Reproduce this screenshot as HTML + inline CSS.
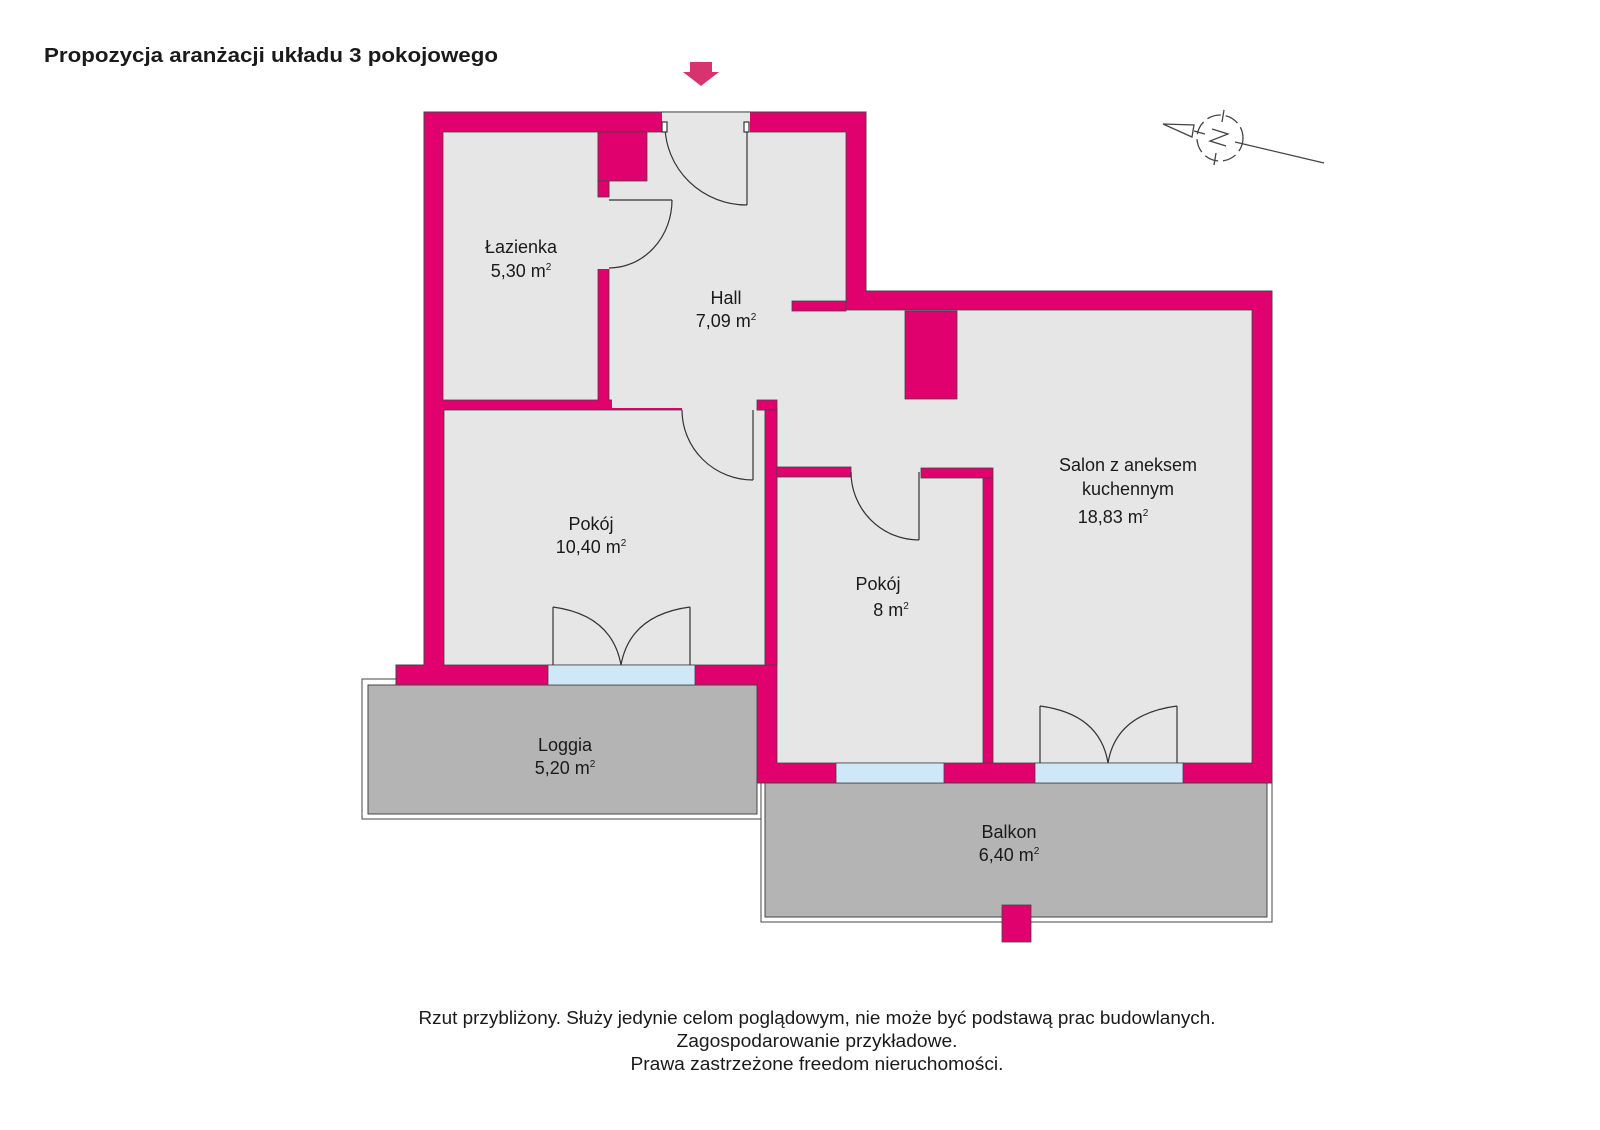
<!DOCTYPE html>
<html><head><meta charset="utf-8"><style>
html,body{margin:0;padding:0;background:#fff;}
svg{display:block;}
text{font-family:"Liberation Sans",Arial,sans-serif;fill:#1a1a1a;}
</style></head><body>
<svg width="1600" height="1130" viewBox="0 0 1600 1130" xmlns="http://www.w3.org/2000/svg">
<rect width="1600" height="1130" fill="#fff"/>
<text x="44" y="62" font-size="20" font-weight="bold" textLength="454" lengthAdjust="spacingAndGlyphs">Propozycja aranżacji układu 3 pokojowego</text>
<polygon points="690,62 712,62 712,72 719,72 701,86 683,72 690,72" fill="#d6336f"/>

<!-- compass -->
<g stroke="#444" stroke-width="1.3" fill="none">
<circle cx="1220" cy="138" r="23" stroke-dasharray="14,5"/>
<line x1="1235" y1="142" x2="1324" y2="163"/>
<polygon points="1163,124 1194,125 1192,137" fill="#fff"/>
<line x1="1194" y1="131" x2="1205" y2="134"/>
<polyline points="1212,129 1228,134 1210,141 1226,146"/>
<line x1="1224" y1="110" x2="1222" y2="122"/>
<line x1="1216" y1="153" x2="1214" y2="165"/>
</g>

<!-- loggia -->
<rect x="362" y="679" width="400" height="140" fill="#fff" stroke="#444" stroke-width="1"/>
<rect x="368" y="685" width="389" height="129" fill="#b4b4b4" stroke="#444" stroke-width="1"/>
<!-- balkon -->
<rect x="761" y="783" width="511" height="139" fill="#fff" stroke="#444" stroke-width="1"/>
<rect x="765" y="783" width="502" height="134" fill="#b4b4b4" stroke="#444" stroke-width="1"/>
<rect x="1002" y="905" width="29" height="37" fill="#e0006e" stroke="#444" stroke-width="0.8"/>

<!-- walls -->
<polygon points="424,112 866,112 866,291 1272,291 1272,783 757,783 757,685 396,685 396,665 424,665" fill="#e0006e" stroke="#444" stroke-width="1"/>

<g fill="#e6e6e6" stroke="#444" stroke-width="0.8">
<rect x="443" y="132" width="155" height="268"/>
<rect x="609" y="132" width="237" height="268"/>
<rect x="777" y="310" width="475" height="453"/>
<rect x="444" y="410" width="321" height="255"/>
</g>
<g fill="#e6e6e6">
<rect x="612" y="300" width="232" height="108"/>
<rect x="778" y="300" width="67" height="100"/>
<rect x="778" y="311" width="473" height="89"/>
<rect x="682" y="398" width="75" height="13"/>
<rect x="596" y="197" width="15" height="72"/>
<rect x="662" y="111" width="88" height="23"/>
</g>
<line x1="662" y1="112" x2="750" y2="112" stroke="#444" stroke-width="1"/>
<g fill="#e0006e" stroke="#444" stroke-width="0.8">
<rect x="598" y="132" width="49" height="49"/>
<rect x="598" y="181" width="11" height="16"/>
<rect x="792" y="301" width="54" height="10"/>
<rect x="905" y="311" width="52" height="88"/>
<rect x="757" y="400" width="20" height="10"/>
<rect x="765" y="410" width="12" height="255"/>
<rect x="777" y="467" width="74" height="10"/>
<rect x="921" y="468" width="72" height="10"/>
<rect x="983" y="478" width="10" height="285"/>
</g>
<!-- windows -->
<g fill="#cfe8f8" stroke="#444" stroke-width="0.8">
<rect x="548" y="665" width="147" height="20"/>
<rect x="836" y="763" width="108" height="20"/>
<rect x="1035" y="763" width="148" height="20"/>
</g>
<!-- doors -->
<g fill="none" stroke="#333" stroke-width="1.2">
<path d="M665,125 A82,80 0 0 0 747,205"/><line x1="747" y1="125" x2="747" y2="205"/><rect x="744" y="122" width="5" height="10" fill="#fff"/><rect x="662" y="122" width="5" height="10" fill="#fff"/>
<path d="M672,200 A63,68 0 0 1 609,268"/><line x1="609" y1="200" x2="672" y2="200"/>
<path d="M682,410 A71,70 0 0 0 753,480"/><line x1="753" y1="410" x2="753" y2="480"/>
<path d="M851,472 A68,68 0 0 0 919,540"/><line x1="919" y1="472" x2="919" y2="540"/>
<line x1="553" y1="607" x2="553" y2="665"/><line x1="690" y1="607" x2="690" y2="665"/>
<path d="M553,607 Q612,615 621,665"/><path d="M690,607 Q630,615 621,665"/>
<line x1="1040" y1="706" x2="1040" y2="763"/><line x1="1177" y1="706" x2="1177" y2="763"/>
<path d="M1040,706 Q1100,714 1108,763"/><path d="M1177,706 Q1116,714 1108,763"/>
</g>

<g font-size="18" text-anchor="middle">
<text x="521" y="253">Łazienka</text>
<text x="521" y="277">5,30 m<tspan font-size="10" dy="-7">2</tspan></text>
<text x="726" y="304">Hall</text>
<text x="726" y="327">7,09 m<tspan font-size="10" dy="-7">2</tspan></text>
<text x="1128" y="471">Salon z aneksem</text>
<text x="1128" y="495">kuchennym</text>
<text x="1113" y="523">18,83 m<tspan font-size="10" dy="-7">2</tspan></text>
<text x="591" y="530">Pokój</text>
<text x="591" y="553">10,40 m<tspan font-size="10" dy="-7">2</tspan></text>
<text x="878" y="590">Pokój</text>
<text x="891" y="616">8 m<tspan font-size="10" dy="-7">2</tspan></text>
<text x="565" y="751">Loggia</text>
<text x="565" y="774">5,20 m<tspan font-size="10" dy="-7">2</tspan></text>
<text x="1009" y="838">Balkon</text>
<text x="1009" y="861">6,40 m<tspan font-size="10" dy="-7">2</tspan></text>
</g>
<g font-size="18" text-anchor="middle">
<text x="817" y="1024" textLength="797" lengthAdjust="spacingAndGlyphs">Rzut przybliżony. Służy jedynie celom poglądowym, nie może być podstawą prac budowlanych.</text>
<text x="817" y="1047" textLength="281" lengthAdjust="spacingAndGlyphs">Zagospodarowanie przykładowe.</text>
<text x="817" y="1070" textLength="373" lengthAdjust="spacingAndGlyphs">Prawa zastrzeżone freedom nieruchomości.</text>
</g>
</svg>
</body></html>
